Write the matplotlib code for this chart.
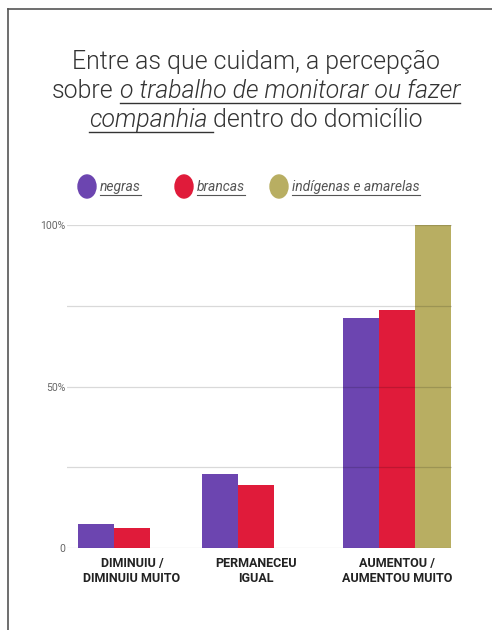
import numpy as np
import matplotlib
matplotlib.use('Agg')
import matplotlib.pyplot as plt
from matplotlib.patches import Circle
from matplotlib.lines import Line2D

# data
categories = ['DIMINUIU /\nDIMINUIU MUITO', 'PERMANECEU\nIGUAL', 'AUMENTOU /\nAUMENTOU MUITO']
negras = [7.5, 23.0, 71.2]
brancas = [6.4, 19.5, 73.7]
indigenas = [0, 0, 100]
series_names = ['negras', 'brancas', 'indígenas e amarelas']
yticks = [0, 50, 100]
ytick_labels = ['0', '50%', '100%']

colors = ['#6c45b0', '#e01b3a', '#b8ae62']
W, H = 492, 630

plt.rcParams['font.family'] = ['Roboto', 'DejaVu Sans']

fig = plt.figure(figsize=(W / 100, H / 100), dpi=100)
renderer = fig.canvas.get_renderer()


def fx(x):
    return x / W


def fy(y):
    return 1 - y / H


# frame (only top and left edges visible in the crop)
fig.add_artist(Line2D([fx(8), fx(8)], [fy(9), 0], color='#555555', lw=1.2))
fig.add_artist(Line2D([fx(8), 1], [fy(9), fy(9)], color='#555555', lw=1.2))

ax = fig.add_axes([fx(67), fy(548.3), fx(452) - fx(67), fy(225) - fy(548.3)])

group_pos = np.array([0, 1, 2.14])
bw = 0.29
for i, (vals, c) in enumerate(zip([negras, brancas, indigenas], colors)):
    ax.bar(group_pos + (i - 1) * bw, vals, width=bw, color=c, zorder=2)

for v in [0, 25, 50, 75, 100]:
    ax.axhline(v, color='black', alpha=0.15, lw=0.9, zorder=3)

ax.set_ylim(0, 100)
ax.set_xlim(-0.524, 2.58)
ax.set_yticks(yticks, ytick_labels, fontsize=7.5, color='#666666')
ax.set_xticks(group_pos, categories, fontsize=9.0, fontweight='bold', color='#222222',
              linespacing=1.2)
ax.tick_params(length=0, axis='y', pad=1)
ax.tick_params(length=0, axis='x', pad=6)
for s in ax.spines.values():
    s.set_visible(False)


def text_width(s, **kw):
    t = fig.text(0, 0, s, **kw)
    w = t.get_window_extent(renderer).width
    t.remove()
    return w


def draw_line(segs, cx, y, size, color, ul_drop, weight=300, ul_lw=1.0):
    # segs: (text, italic, underline, trailing_space)
    parts = []
    total = 0
    for txt, ital, ul, sp in segs:
        kw = dict(fontsize=size, fontweight=weight, style='italic' if ital else 'normal')
        w = text_width(txt, **kw)
        sw = (text_width('x x', **kw) - text_width('xx', **kw)) if sp else 0
        parts.append((txt, kw, ul, w, sw))
        total += w + sw
    x = cx - total / 2
    for txt, kw, ul, w, sw in parts:
        fig.text(fx(x), fy(y), txt, color=color, ha='left', va='baseline', **kw)
        if ul:
            fig.add_artist(Line2D([fx(x), fx(x + w + sw)], [fy(y + ul_drop)] * 2,
                                  color=color, lw=ul_lw))
        x += w + sw


title_color = '#333333'
tsize = 17.9
draw_line([('Entre as que cuidam, a percepção', False, False, False)],
          256, 69, tsize, title_color, 4)
draw_line([('sobre', False, False, True),
           ('o trabalho de monitorar ou fazer', True, True, False)],
          256, 98, tsize, title_color, 4.5)
draw_line([('companhia', True, True, True),
           ('dentro do domicílio', False, False, False)],
          256, 127, tsize, title_color, 4.5)

# legend
legend_cx = [87, 184, 279]
for name, c, lx in zip(series_names, colors, legend_cx):
    fig.add_artist(Circle((fx(lx), fy(186.5)), fx(9), color=c,
                          transform=fig.transFigure))
    kw = dict(fontsize=10, fontweight=400, style='italic')
    w = text_width(name, **kw)
    tx = lx + 13
    fig.text(fx(tx), fy(191), name, color='#555555', ha='left', va='baseline', **kw)
    fig.add_artist(Line2D([fx(tx), fx(tx + w)], [fy(194.5)] * 2, color='#555555', lw=0.8))

fig.savefig('out.png', dpi=100)
